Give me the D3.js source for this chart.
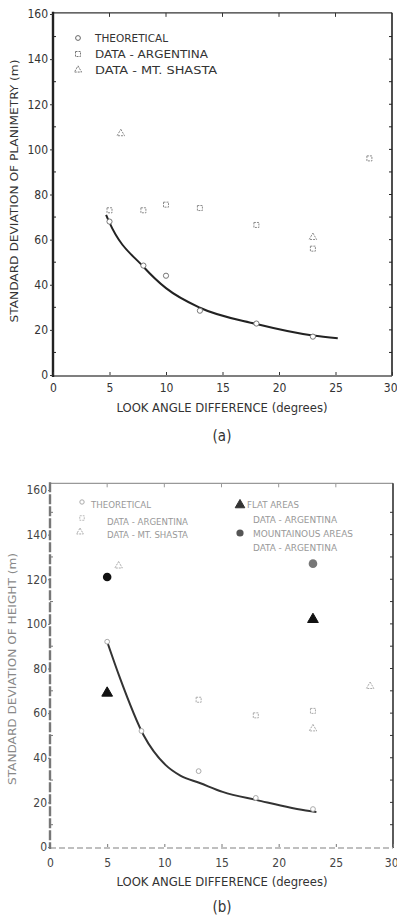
<!DOCTYPE html>
<html>
<head>
<meta charset="utf-8">
<script src="https://cdn.jsdelivr.net/npm/d3@7"></script>
<style>
  body { margin: 0; background: #fff; }
  svg text { font-family: "DejaVu Sans Condensed", "Liberation Sans Narrow", sans-serif; }
</style>
</head>
<body>
<div id="chart"></div>
<script>
// shared axes
const xTicks = [0, 5, 10, 15, 20, 25, 30];
const yTicks = [0, 20, 40, 60, 80, 100, 120, 140, 160];
const yMinor = [10, 30, 50, 70, 90, 110, 130, 150];

// (a) standard deviation of planimetry (m)
const aCurveX = [4.7, 5, 8, 10, 13, 18, 23, 25.2];
const aCurveY = [71, 67.5, 48, 38.5, 29.8, 22.6, 17.5, 16.3];
const aTheoX = [5, 8, 10, 13, 18, 23];
const aTheoY = [68, 48.5, 44, 28.5, 22.8, 17];
const aArgX = [5, 8, 10, 13, 18, 23, 28];
const aArgY = [73, 73, 75.5, 74, 66.5, 56, 96];
const aShastaX = [6, 23];
const aShastaY = [107, 61];

// (b) standard deviation of height (m)
const bCurveX = [5, 6.1, 8.2, 10.1, 11.4, 13.1, 15.1, 18.1, 22.7, 23.3];
const bCurveY = [92, 76, 50, 36.8, 32, 28.7, 24.7, 21, 16.1, 15.7];
const bTheoX = [5, 8, 13, 18, 23];
const bTheoY = [92, 52, 34, 22, 17];
const bArgX = [13, 18, 23];
const bArgY = [66, 59, 61];
const bShastaX = [6, 23, 28];
const bShastaY = [126, 53, 72];
const bFlatX = [5, 23];
const bFlatY = [69, 102];
const bMountX = [5, 23];
const bMountY = [121, 127];

const W = 397, H = 922;
const svg = d3.select("#chart").append("svg")
  .attr("width", W)
  .attr("height", H);

const tri = d3.symbol().type(d3.symbolTriangle);

function zip(xs, ys) { return xs.map((x, i) => ({ x: x, y: ys[i] })); }

function drawPanel(p) {
  const g = svg.append("g");
  const x = d3.scaleLinear().domain([0, 30]).range(p.xr);
  const y = d3.scaleLinear().domain([0, 160]).range(p.yr);
  const top = y(p.frameTop);

  // frame
  g.append("line").attr("x1", x(0)).attr("x2", x(30)).attr("y1", top).attr("y2", top)
    .attr("stroke", p.topColor).attr("stroke-width", 1.3);
  g.append("line").attr("x1", x(30)).attr("x2", x(30)).attr("y1", top).attr("y2", y(0) + 1)
    .attr("stroke", p.rightColor).attr("stroke-width", 1.6);
  g.append("line").attr("x1", x(0)).attr("x2", x(30)).attr("y1", y(0) + 1).attr("y2", y(0) + 1)
    .attr("stroke", p.bottomColor).attr("stroke-width", 1.3)
    .attr("stroke-dasharray", p.bottomDash);
  g.append("line").attr("x1", x(0)).attr("x2", x(0)).attr("y1", top - 1).attr("y2", y(0) + 2)
    .attr("stroke", p.leftColor).attr("stroke-width", 2.4)
    .attr("stroke-dasharray", p.leftDash);

  // inner ticks on top and right borders
  g.selectAll(".tt").data([5, 10, 15, 20, 25]).enter().append("line")
    .attr("x1", d => x(d)).attr("x2", d => x(d)).attr("y1", top).attr("y2", top + 4)
    .attr("stroke", p.topColor).attr("stroke-width", 1);
  g.selectAll(".rt").data(yTicks.concat(yMinor).filter(d => d > 0 && d < 160)).enter().append("line")
    .attr("x1", x(30)).attr("x2", x(30) - 3).attr("y1", d => y(d)).attr("y2", d => y(d))
    .attr("stroke", p.rightColor).attr("stroke-width", 1);
  g.selectAll(".lm").data(yMinor).enter().append("line")
    .attr("x1", x(0)).attr("x2", x(0) + 3).attr("y1", d => y(d)).attr("y2", d => y(d))
    .attr("stroke", p.leftColor).attr("stroke-width", 1);

  // axes
  const yAxis = g.append("g")
    .attr("transform", "translate(" + x(0) + ",0)")
    .call(d3.axisLeft(y).tickValues(yTicks).tickSize(p.yTickSize).tickPadding(p.yPad));
  const xAxis = g.append("g")
    .attr("transform", "translate(0," + y(0) + ")")
    .call(d3.axisBottom(x).tickValues(xTicks).tickSizeInner(-3).tickSizeOuter(0).tickPadding(p.xPad));
  [yAxis, xAxis].forEach(a => {
    a.select(".domain").remove();
    a.selectAll("line").attr("stroke", p.tickColor);
    a.selectAll("text").attr("fill", p.labelColor).style("font-size", "12px");
  });
  // the last x label sits against the page edge
  xAxis.selectAll("text").filter(d => d === 30)
    .attr("text-anchor", "end").attr("dx", 5);

  // axis titles
  g.append("text")
    .attr("x", 222).attr("y", p.xTitleY)
    .attr("text-anchor", "middle")
    .attr("textLength", 211).attr("lengthAdjust", "spacingAndGlyphs")
    .attr("fill", "#333").style("font-size", "11.5px")
    .text("LOOK ANGLE DIFFERENCE (degrees)");
  g.append("text")
    .attr("transform", "translate(" + p.yTitleX + "," + p.yTitleC + ") rotate(-90)")
    .attr("text-anchor", "middle")
    .attr("textLength", p.yTitleLen).attr("lengthAdjust", "spacingAndGlyphs")
    .attr("fill", p.yTitleColor).style("font-size", "11px")
    .text(p.yTitle);
  g.append("text")
    .attr("x", 222).attr("y", p.tagY)
    .attr("text-anchor", "middle")
    .attr("fill", "#333").style("font-size", "15px")
    .text(p.tag);

  return { g: g, x: x, y: y };
}

function curve(P, xs, ys, color) {
  const line = d3.line().x(d => P.x(d.x)).y(d => P.y(d.y)).curve(d3.curveMonotoneX);
  P.g.append("path").datum(zip(xs, ys))
    .attr("d", line)
    .attr("fill", "none").attr("stroke", color).attr("stroke-width", 2);
}

function circles(P, xs, ys, r, stroke) {
  P.g.selectAll(null).data(zip(xs, ys)).enter().append("circle")
    .attr("cx", d => P.x(d.x)).attr("cy", d => P.y(d.y)).attr("r", r)
    .attr("fill", "#fff").attr("stroke", stroke).attr("stroke-width", 1);
}

function squares(P, xs, ys, s, stroke) {
  P.g.selectAll(null).data(zip(xs, ys)).enter().append("rect")
    .attr("x", d => P.x(d.x) - s / 2).attr("y", d => P.y(d.y) - s / 2)
    .attr("width", s).attr("height", s)
    .attr("fill", "#fff").attr("stroke", stroke).attr("stroke-width", 1)
    .attr("stroke-dasharray", "2,1");
}

function triangles(P, xs, ys, size, stroke, fill) {
  P.g.selectAll(null).data(zip(xs, ys)).enter().append("path")
    .attr("transform", d => "translate(" + P.x(d.x) + "," + P.y(d.y) + ")")
    .attr("d", tri.size(size)())
    .attr("fill", fill).attr("stroke", stroke).attr("stroke-width", 1)
    .attr("stroke-dasharray", fill === "none" ? "2,1" : null);
}

function legendText(g, x, y, len, txt, color, fs) {
  g.append("text").attr("x", x).attr("y", y)
    .attr("textLength", len).attr("lengthAdjust", "spacingAndGlyphs")
    .attr("fill", color).style("font-size", fs + "px")
    .text(txt);
}

// ---------- panel (a)
const A = drawPanel({
  xr: [53, 392], yr: [375, 14], frameTop: 160.5,
  topColor: "#333", rightColor: "#222", bottomColor: "#555", leftColor: "#222",
  bottomDash: null, leftDash: null, tickColor: "#333", labelColor: "#333",
  yTickSize: 3, yPad: 2, xPad: 8,
  xTitleY: 412, yTitleX: 18, yTitleC: 191, yTitleLen: 263, yTitleColor: "#333",
  yTitle: "STANDARD DEVIATION OF PLANIMETRY (m)",
  tagY: 441, tag: "(a)"
});
curve(A, aCurveX, aCurveY, "#222");
squares(A, aArgX, aArgY, 5, "#8a8a8a");
triangles(A, aShastaX, aShastaY, 24, "#8a8a8a", "none");
circles(A, aTheoX, aTheoY, 2.6, "#777");

// legend (a)
circles({ g: A.g, x: d => d, y: d => d }, [78], [38], 2.4, "#666");
squares({ g: A.g, x: d => d, y: d => d }, [78], [54], 5, "#777");
triangles({ g: A.g, x: d => d, y: d => d }, [78], [70], 22, "#777", "none");
legendText(A.g, 95, 42, 73, "THEORETICAL", "#333", 11);
legendText(A.g, 95, 58, 113, "DATA - ARGENTINA", "#333", 11);
legendText(A.g, 95, 74, 122, "DATA - MT. SHASTA", "#333", 11);

// ---------- panel (b)
const B = drawPanel({
  xr: [50, 393], yr: [847, 490], frameTop: 163,
  topColor: "#999", rightColor: "#333", bottomColor: "#aaa", leftColor: "#777",
  bottomDash: "6,3", leftDash: "10,2", tickColor: "#777", labelColor: "#444",
  yTickSize: 2, yPad: 1, xPad: 11,
  xTitleY: 886, yTitleX: 16, yTitleC: 669, yTitleLen: 232, yTitleColor: "#888",
  yTitle: "STANDARD DEVIATION OF HEIGHT (m)",
  tagY: 912, tag: "(b)"
});
curve(B, bCurveX, bCurveY, "#333");
squares(B, bArgX, bArgY, 5, "#aaa");
triangles(B, bShastaX, bShastaY, 24, "#aaa", "none");
circles(B, bTheoX, bTheoY, 2.4, "#aaa");
triangles(B, bFlatX, bFlatY, 50, "#111", "#111");
B.g.selectAll(null).data(zip(bMountX, bMountY)).enter().append("circle")
  .attr("cx", d => B.x(d.x)).attr("cy", d => B.y(d.y)).attr("r", 4.3)
  .attr("fill", (d, i) => i === 0 ? "#111" : "#777");

// legend (b)
const idB = { g: B.g, x: d => d, y: d => d };
circles(idB, [82], [502], 2.2, "#aaa");
squares(idB, [82], [518], 4.5, "#bbb");
triangles(idB, [80], [532], 20, "#aaa", "none");
legendText(B.g, 91, 508, 60, "THEORETICAL", "#999", 9.5);
legendText(B.g, 107, 525, 81, "DATA - ARGENTINA", "#999", 9.5);
legendText(B.g, 107, 538, 81, "DATA - MT. SHASTA", "#999", 9.5);
triangles(idB, [240], [505], 40, "#333", "#333");
B.g.append("circle").attr("cx", 240).attr("cy", 533).attr("r", 3.6).attr("fill", "#555");
legendText(B.g, 247, 508, 52, "FLAT AREAS", "#999", 9.5);
legendText(B.g, 253, 523, 84, "DATA - ARGENTINA", "#999", 9.5);
legendText(B.g, 253, 537, 100, "MOUNTAINOUS AREAS", "#999", 9.5);
legendText(B.g, 253, 551, 84, "DATA - ARGENTINA", "#999", 9.5);
</script>
</body>
</html>
